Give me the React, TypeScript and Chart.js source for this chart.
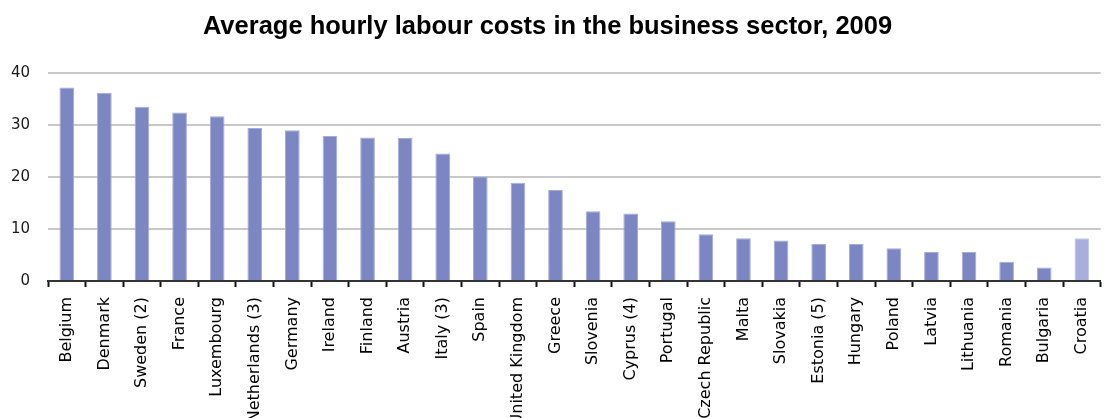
import React, { useEffect, useRef } from "react";
import { Chart, registerables } from "chart.js";

Chart.register(...registerables);

const countries: string[] = [
  "Belgium", "Denmark", "Sweden (2)", "France", "Luxembourg", "Netherlands (3)",
  "Germany", "Ireland", "Finland", "Austria", "Italy (3)", "Spain",
  "United Kingdom", "Greece", "Slovenia", "Cyprus (4)", "Portugal",
  "Czech Republic", "Malta", "Slovakia", "Estonia (5)", "Hungary", "Poland",
  "Latvia", "Lithuania", "Romania", "Bulgaria", "Croatia",
];

const costs: number[] = [
  37.2, 36.2, 33.5, 32.4, 31.7, 29.4,
  29.0, 27.9, 27.6, 27.5, 24.5, 20.1,
  18.9, 17.5, 13.4, 13.0, 11.5,
  9.0, 8.2, 7.8, 7.1, 7.1, 6.3,
  5.6, 5.6, 3.7, 2.6, 8.2,
];

const highlighted: string[] = ["Croatia"];

const titleText = "Average hourly labour costs in the business sector, 2009";

const W = 1127;
const H = 440;

export default function App() {
  const ref = useRef<HTMLCanvasElement>(null);

  useEffect(() => {
    document.documentElement.style.overflow = "hidden";
    document.body.style.overflow = "hidden";
    const canvas = ref.current;
    if (!canvas) return;
    const chart = new Chart(canvas, {
      type: "bar",
      data: {
        labels: countries,
        datasets: [
          {
            data: costs,
            backgroundColor: countries.map((c) =>
              highlighted.includes(c) ? "#a9afdc" : "#7b86c2"
            ),
            borderColor: countries.map((c) =>
              highlighted.includes(c) ? "#c6caec" : "#a4abd9"
            ),
            borderWidth: 1,
            barPercentage: 0.39,
            categoryPercentage: 1,
          },
        ],
      },
      options: {
        animation: false,
        responsive: false,
        devicePixelRatio: 1,
        layout: { padding: 0 },
        plugins: {
          legend: { display: false },
          tooltip: { enabled: false },
          title: {
            display: true,
            text: titleText,
            color: "#000",
            font: { family: "Liberation Sans", size: 25.5, weight: "bold" },
            padding: { top: 12, bottom: 30.4 },
          },
        },
        scales: {
          x: {
            grid: {
              display: true,
              drawOnChartArea: false,
              drawTicks: true,
              tickLength: 6,
              tickColor: "#111",
              tickWidth: 2,
              offset: true,
            },
            border: { display: true, color: "#333", width: 2 },
            ticks: {
              autoSkip: false,
              maxRotation: 90,
              minRotation: 90,
              padding: 10,
              color: "#000",
              font: { family: "DejaVu Sans", size: 16 },
            },
            afterFit: (s: any) => {
              s.height = H - 281;
            },
          },
          y: {
            min: 0,
            max: 40,
            ticks: {
              stepSize: 10,
              padding: 18,
              color: "#1a1a1a",
              font: { family: "DejaVu Sans", size: 15 },
            },
            grid: { color: "#c8c8c8", lineWidth: 2, drawTicks: false },
            border: { display: false },
            afterFit: (s: any) => {
              s.width = 64;
            },
          },
        },
      },
    });
    return () => chart.destroy();
  }, []);

  return (
    <div style={{ position: "absolute", left: -16, top: 0, width: W, height: H }}>
      <canvas ref={ref} width={W} height={H} style={{ display: "block", width: W, height: H }} />
    </div>
  );
}
